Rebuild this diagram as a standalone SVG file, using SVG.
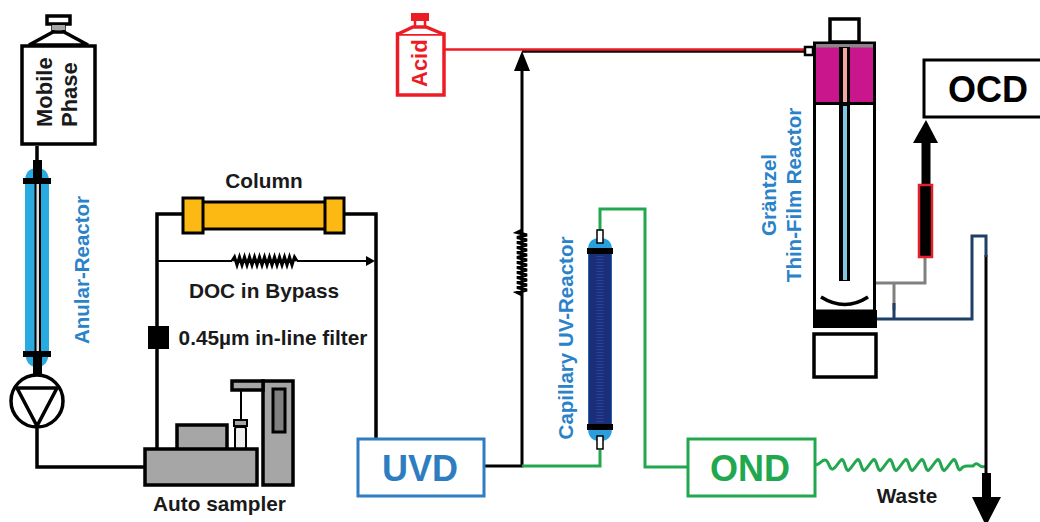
<svg xmlns="http://www.w3.org/2000/svg" width="1040" height="522" viewBox="0 0 1040 522">
<style>
text{font-family:"Liberation Sans",Arial,sans-serif;font-weight:700}
.k{fill:none;stroke:#000;stroke-width:3.500}
.kw{fill:#fff;stroke:#000;stroke-width:3.500}
.g{fill:#a6a6a6;stroke:#000;stroke-width:3.500}
.lb{fill:#1a1a1a;font-size:20.800px;text-anchor:middle}
.bl{fill:#2a82c8;font-size:20.500px;text-anchor:middle}
</style>
<rect width="1040" height="522" fill="#fff"/>
<g id="connectors" fill="none">
<path class="k" d="M37 146V170M37 428V467H145"/>
<path class="k" d="M157 449V214H182M344 214H376V438"/>
<path d="M157 261H232M297 261H366" stroke="#000" stroke-width="2" fill="none"/>
<path d="M366 256L375 261L366 266Z" fill="#000"/>
<path d="M232 261l2.500-4 2.500 8 2.500-8 2.500 8 2.500-8 2.500 8 2.500-8 2.500 8 2.500-8 2.500 8 2.500-8 2.500 8 2.500-8 2.500 8 2.500-8 2.500 8 2.500-8 2.500 8 2.500-8 2.500 8 2.500-8 2.500 8 2.500-8 2.500 8 2.500-8 2.500 4" stroke="#000" stroke-width="3" fill="none"/>
<path d="M484 466H522V69" stroke="#000" stroke-width="3" fill="none"/>
<path d="M514 71L522 51L530 71Z" fill="#000"/>
<path d="M522 230l-5 2.500 10 2.500-10 2.500 10 2.500-10 2.500 10 2.500-10 2.500 10 2.500-10 2.500 10 2.500-10 2.500 10 2.500-10 2.500 10 2.500-10 2.500 10 2.500-10 2.500 10 2.500-10 2.500 10 2.500-10 2.500 10 2.500-10 2.500 10 2.500-10 2.500 5 2.500" stroke="#000" stroke-width="3" fill="none"/>
<path d="M522 51H804" stroke="#000" stroke-width="3.500" fill="none"/>
<path d="M445 49.500H804" stroke="#ed1c24" stroke-width="2.500" fill="none"/>
<path d="M522 466H600V450M600 230V209H645V467H687" stroke="#21a84f" stroke-width="3" fill="none"/>
<path d="M816 465q3 -1 5 -3t4 -2 4 5 4 4 4 -4 4 -5 4 5 4 5 4 -5 4 -5 4 5 4 5 4 -5 4 -5 4 5 4 5 4 -5 4 -5 4 5 4 5 4 -5 4 -5 4 5 4 5 4 -5 4 -5 4 5 4 5 4 -5 4 -5 4 5 4 5 4 -5 4 -5 4 5 4 4 6 -3 6 0q3 -4 6 -1q3 3 7 1" stroke="#21a84f" stroke-width="3" fill="none"/>
<path d="M986 255V475" stroke="#000" stroke-width="3" fill="none"/>
<path d="M982 473H991V497H1001L986 526L972 497H982Z" fill="#000"/>
<path d="M925 257V283H876M894 283V310" stroke="#808080" stroke-width="3" fill="none"/>
<path d="M872 319H972V236H986V257M894 303V319" stroke="#1f3f66" stroke-width="3" fill="none"/>
<path d="M926 186V140" stroke="#000" stroke-width="9" fill="none"/>
<path d="M913 143L926 120L938 143Z" fill="#000"/>
<rect x="919" y="185" width="13" height="72" fill="#000" stroke="#e3202a" stroke-width="2.500"/>
</g>
<g id="mobile-phase">
<rect class="kw" x="22" y="46" width="73" height="98"/>
<path class="kw" d="M29 45L53 32H64L88 45Z"/>
<rect class="kw" x="47" y="16" width="23" height="8"/>
<path class="k" d="M53 24V32M64 24V32"/>
<rect x="52" y="25" width="13" height="5" fill="#a6a6a6"/>
<text transform="translate(52 127) rotate(-90)" fill="#1a1a1a" font-size="22">Mobile</text>
<text transform="translate(77 127) rotate(-90)" fill="#1a1a1a" font-size="22">Phase</text>
</g>
<g id="anular-reactor">
<path d="M25 182Q25 168 37 168Q49 168 49 182V350Q49 367 37 367Q25 367 25 350Z" fill="#29abe2"/>
<rect x="33" y="160" width="9" height="18" fill="#000"/>
<rect x="33" y="357" width="9" height="20" fill="#000"/>
<rect x="23" y="178" width="28" height="6" fill="#000"/>
<rect x="23" y="351" width="28" height="6" fill="#000"/>
<rect x="34.500" y="184" width="6.500" height="167" fill="#000"/>
<rect x="36.500" y="184" width="2.500" height="167" fill="#ddd"/>
<text class="bl" transform="translate(89 270) rotate(-90)">Anular-Reactor</text>
</g>
<g id="pump">
<circle class="kw" cx="37" cy="401" r="26"/>
<path class="k" d="M17 388H57L37 426Z"/>
</g>
<g id="column">
<rect x="202" y="202" width="124" height="27" fill="#fdb913" stroke="#000" stroke-width="3"/>
<rect x="183" y="198" width="20" height="35" fill="#fdb913" stroke="#000" stroke-width="3"/>
<rect x="325" y="198" width="19" height="35" fill="#fdb913" stroke="#000" stroke-width="3"/>
<text class="lb" x="264" y="188">Column</text>
</g>
<text class="lb" x="264" y="298">DOC in Bypass</text>
<g id="filter">
<rect x="148" y="326" width="21" height="23" fill="#000"/>
<text class="lb" x="273" y="345">0.45µm in-line filter</text>
</g>
<g id="auto-sampler">
<rect class="g" x="177" y="425" width="50" height="25"/>
<rect class="g" x="263" y="381" width="30" height="104"/>
<rect class="g" x="232" y="381" width="31" height="9"/>
<rect x="273" y="389" width="12" height="43" fill="#808080" stroke="#000" stroke-width="3"/>
<path d="M241 390V420" stroke="#000" stroke-width="2" fill="none"/>
<rect x="234" y="420" width="13" height="6" fill="#a6a6a6" stroke="#000" stroke-width="2"/>
<rect x="235" y="427" width="11" height="22" rx="2" fill="#eee" stroke="#000" stroke-width="2"/>
<rect class="g" x="145" y="449" width="112" height="36"/>
<text class="lb" x="219.500" y="511">Auto sampler</text>
</g>
<g id="acid">
<rect x="397.500" y="34" width="46.500" height="61" fill="#fff" stroke="#ed1c24" stroke-width="3.500"/>
<path d="M398 34L413 27H426L443 34" fill="#fff" stroke="#ed1c24" stroke-width="3.500"/>
<rect x="412" y="14" width="16" height="6" fill="#ed1c24" stroke="#ed1c24" stroke-width="2"/>
<path d="M415 20V27M425 20V27" stroke="#ed1c24" stroke-width="2.500"/>
<text transform="translate(427 87) rotate(-90)" fill="#ed1c24" font-size="22">Acid</text>
</g>
<g id="uvd">
<rect x="358" y="439" width="126" height="57" fill="#fff" stroke="#2e7dc0" stroke-width="3"/>
<text x="420" y="481" text-anchor="middle" fill="#2e7dc0" font-size="36">UVD</text>
</g>
<g id="capillary-uv-reactor">
<path d="M588 250Q588 238 600 238Q612 238 612 250V428Q612 441 600 441Q588 441 588 428Z" fill="#29a0dc"/>
<rect x="588.500" y="250" width="23" height="179" fill="#1c2d7a"/>
<path d="M600 253V424" stroke="#23479a" stroke-width="7" stroke-dasharray="1 2" fill="none"/>
<rect x="587" y="248" width="26" height="6" fill="#000"/>
<rect x="587" y="424" width="26" height="6" fill="#000"/>
<rect x="597" y="230" width="6" height="13" fill="#fff" stroke="#000" stroke-width="1.500"/>
<rect x="597" y="436" width="6" height="13" fill="#fff" stroke="#000" stroke-width="1.500"/>
<text class="bl" transform="translate(573 338) rotate(-90)">Capillary UV-Reactor</text>
</g>
<g id="ond">
<rect x="688" y="439" width="127" height="57" fill="#fff" stroke="#21a84f" stroke-width="3"/>
<text x="750" y="481" text-anchor="middle" fill="#21a84f" font-size="36">OND</text>
</g>
<g id="grantzel-reactor">
<rect class="kw" x="830" y="19" width="29" height="23"/>
<rect x="815" y="47" width="59" height="57" fill="#c9168c"/>
<rect x="814.500" y="43" width="60" height="268" fill="none" stroke="#000" stroke-width="3"/>
<rect x="816" y="44.500" width="57" height="3" fill="#888"/>
<path d="M813 103.500H876" stroke="#000" stroke-width="3"/>
<rect x="805" y="47" width="8" height="8" fill="#fff" stroke="#000" stroke-width="2.500"/>
<rect x="839" y="47" width="11" height="234" fill="#000"/>
<rect x="843" y="48" width="4" height="54" fill="#f4a7a0"/>
<rect x="843" y="106" width="4" height="174" fill="#7ec8e3"/>
<path d="M821 297Q845 312 868 297" class="k"/>
<rect x="813" y="310" width="64" height="18" fill="#000"/>
<rect class="kw" x="814" y="334" width="62" height="43"/>
<text class="bl" transform="translate(776 195) rotate(-90)">Gräntzel</text>
<text class="bl" transform="translate(801 195) rotate(-90)">Thin-Film Reactor</text>
</g>
<g id="ocd">
<rect x="924" y="60" width="118" height="57" fill="#fff" stroke="#000" stroke-width="3"/>
<text x="988" y="102" text-anchor="middle" fill="#000" font-size="36">OCD</text>
</g>
<text class="lb" x="907" y="503">Waste</text>
</svg>
